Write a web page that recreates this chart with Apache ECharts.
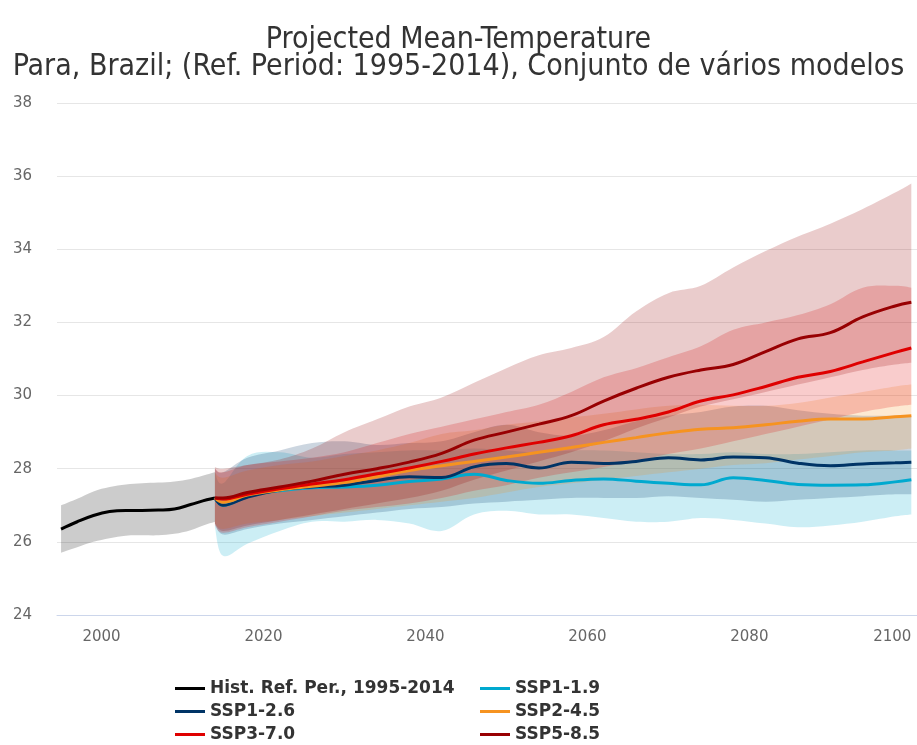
<!DOCTYPE html>
<html>
<head>
<meta charset="utf-8">
<script src="https://cdn.jsdelivr.net/npm/echarts@6/dist/echarts.min.js"></script>
<style>html,body{margin:0;padding:0;background:#fff}#c{width:917px;height:745px}</style>
</head>
<body>
<div id="c"></div>
<script>
// ---------- data ----------
var histYears = [1995, 1997, 1999, 2001, 2003, 2005, 2007, 2009, 2011, 2013, 2014];
var histMean  = [26.35, 26.55, 26.72, 26.83, 26.86, 26.86, 26.87, 26.9, 27.02, 27.15, 27.2];
var histHigh  = [27.0, 27.18, 27.38, 27.5, 27.57, 27.6, 27.62, 27.65, 27.72, 27.84, 27.9];
var histLow   = [25.7, 25.85, 26.0, 26.1, 26.17, 26.18, 26.18, 26.22, 26.32, 26.48, 26.55];

var projYears = [2014, 2015, 2018, 2022, 2026, 2030, 2034, 2038, 2042, 2046, 2050, 2054, 2058, 2062, 2066, 2070, 2074, 2078, 2082, 2086, 2090, 2094, 2098, 2100];

var ssp119Mean = [27.2, 27.0, 27.25, 27.4, 27.48, 27.5, 27.55, 27.65, 27.72, 27.85, 27.68, 27.6, 27.68, 27.72, 27.66, 27.6, 27.56, 27.75, 27.68, 27.57, 27.55, 27.56, 27.64, 27.7];
var ssp119High = [27.9, 27.6, 28.35, 28.45, 28.3, 28.4, 28.45, 28.5, 28.5, 28.55, 28.5, 28.45, 28.5, 28.5, 28.45, 28.4, 28.4, 28.45, 28.4, 28.4, 28.45, 28.5, 28.5, 28.5];
var ssp119Low  = [26.4, 25.62, 25.95, 26.3, 26.55, 26.55, 26.6, 26.5, 26.3, 26.75, 26.85, 26.75, 26.75, 26.65, 26.55, 26.55, 26.65, 26.6, 26.5, 26.4, 26.45, 26.55, 26.7, 26.75];

var ssp126Mean = [27.2, 27.0, 27.22, 27.42, 27.5, 27.55, 27.68, 27.78, 27.76, 28.05, 28.14, 28.02, 28.18, 28.14, 28.2, 28.3, 28.24, 28.32, 28.3, 28.15, 28.08, 28.13, 28.16, 28.18];
var ssp126High = [28.0, 27.9, 28.3, 28.5, 28.7, 28.75, 28.65, 28.7, 28.75, 29.0, 29.2, 29.0, 28.9, 29.05, 29.3, 29.45, 29.55, 29.7, 29.72, 29.6, 29.5, 29.45, 29.45, 29.45];
var ssp126Low  = [26.5, 26.2, 26.35, 26.5, 26.6, 26.7, 26.8, 26.9, 26.95, 27.05, 27.1, 27.15, 27.2, 27.2, 27.2, 27.25, 27.2, 27.15, 27.1, 27.15, 27.2, 27.25, 27.3, 27.3];

var ssp245Mean = [27.2, 27.08, 27.28, 27.42, 27.52, 27.62, 27.78, 27.95, 28.08, 28.2, 28.32, 28.45, 28.58, 28.72, 28.85, 28.98, 29.08, 29.12, 29.2, 29.3, 29.36, 29.36, 29.42, 29.45];
var ssp245High = [27.9, 27.75, 27.95, 28.1, 28.2, 28.35, 28.5, 28.7, 28.95, 29.05, 29.2, 29.3, 29.4, 29.5, 29.62, 29.72, 29.75, 29.72, 29.72, 29.8, 29.95, 30.1, 30.25, 30.3];
var ssp245Low  = [26.5, 26.35, 26.5, 26.6, 26.7, 26.8, 26.9, 27.0, 27.1, 27.2, 27.35, 27.5, 27.6, 27.7, 27.8, 27.9, 28.0, 28.1, 28.15, 28.25, 28.35, 28.45, 28.5, 28.55];

var ssp370Mean = [27.2, 27.17, 27.3, 27.45, 27.58, 27.7, 27.86, 28.02, 28.2, 28.4, 28.57, 28.72, 28.9, 29.2, 29.35, 29.55, 29.85, 30.02, 30.25, 30.5, 30.66, 30.92, 31.18, 31.3];
var ssp370High = [28.0, 27.9, 28.1, 28.2, 28.3, 28.45, 28.7, 28.95, 29.15, 29.35, 29.55, 29.75, 30.1, 30.5, 30.75, 31.05, 31.35, 31.8, 32.0, 32.2, 32.5, 32.95, 33.0, 32.95];
var ssp370Low  = [26.45, 26.25, 26.4, 26.55, 26.7, 26.85, 26.95, 27.05, 27.2, 27.4, 27.55, 27.75, 27.9, 28.05, 28.2, 28.4, 28.55, 28.75, 28.95, 29.15, 29.35, 29.55, 29.7, 29.75];

var ssp585Mean = [27.2, 27.2, 27.35, 27.5, 27.66, 27.85, 28.0, 28.18, 28.42, 28.78, 29.0, 29.22, 29.45, 29.85, 30.2, 30.5, 30.7, 30.85, 31.2, 31.55, 31.72, 32.15, 32.45, 32.55];
var ssp585High = [28.05, 28.0, 28.1, 28.25, 28.55, 29.0, 29.35, 29.7, 29.95, 30.35, 30.75, 31.1, 31.3, 31.6, 32.3, 32.8, 33.0, 33.5, 33.95, 34.35, 34.7, 35.1, 35.55, 35.8];
var ssp585Low  = [26.5, 26.3, 26.45, 26.6, 26.75, 26.9, 27.05, 27.2, 27.4, 27.7, 27.95, 28.2, 28.45, 28.75, 29.1, 29.4, 29.7, 29.9, 30.1, 30.3, 30.5, 30.7, 30.85, 30.9];

var xTickLabels = [2000, 2020, 2040, 2060, 2080, 2100];

var seriesNames = ['Hist. Ref. Per., 1995-2014', 'SSP1-1.9', 'SSP1-2.6', 'SSP2-4.5', 'SSP3-7.0', 'SSP5-8.5'];
var seriesColors = ['#000000', '#00a9cf', '#003466', '#f69320', '#df0000', '#980002'];
var bandColors = ['rgba(0,0,0,0.2)', 'rgba(0,169,207,0.2)', 'rgba(0,52,102,0.2)', 'rgba(246,147,32,0.2)', 'rgba(223,0,0,0.2)', 'rgba(152,0,2,0.2)'];

// ---------- build ----------
var groups = [
  [histYears, histMean, histHigh, histLow],
  [projYears, ssp119Mean, ssp119High, ssp119Low],
  [projYears, ssp126Mean, ssp126High, ssp126Low],
  [projYears, ssp245Mean, ssp245High, ssp245Low],
  [projYears, ssp370Mean, ssp370High, ssp370Low],
  [projYears, ssp585Mean, ssp585High, ssp585Low]
];
function pairs(xs, ys) { return xs.map(function (x, i) { return [x, ys[i]]; }); }

// smooth path segments (Catmull-Rom -> cubic Bezier) through given pixel points
function curveSegs(p) {
  var k = 0.18, s = '';
  for (var i = 0; i < p.length - 1; i++) {
    var p0 = p[i - 1] || p[i], p1 = p[i], p2 = p[i + 1], p3 = p[i + 2] || p[i + 1];
    var c1x = p1[0] + (p2[0] - p0[0]) * k, c1y = p1[1] + (p2[1] - p0[1]) * k;
    var c2x = p2[0] - (p3[0] - p1[0]) * k, c2y = p2[1] - (p3[1] - p1[1]) * k;
    s += ' C' + c1x + ' ' + c1y + ' ' + c2x + ' ' + c2y + ' ' + p2[0] + ' ' + p2[1];
  }
  return s;
}
function bandRenderer(xs, hi, lo, color) {
  return function (params, api) {
    var up = xs.map(function (x, i) { return api.coord([x, hi[i]]); });
    var dn = xs.map(function (x, i) { return api.coord([x, lo[i]]); }).reverse();
    var d = 'M' + up[0][0] + ' ' + up[0][1] + curveSegs(up) +
            ' L' + dn[0][0] + ' ' + dn[0][1] + curveSegs(dn) + ' Z';
    return { type: 'path', shape: { pathData: d }, style: { fill: color, stroke: null }, silent: true };
  };
}

var series = [];
groups.forEach(function (g, k) {
  series.push({
    name: 'band-' + k, type: 'custom', data: [[g[0][0], g[2][0]]],
    renderItem: bandRenderer(g[0], g[2], g[3], bandColors[k]),
    silent: true, z: 1, clip: true
  });
});
groups.forEach(function (g, k) {
  series.push({
    name: seriesNames[k], type: 'line', data: pairs(g[0], g[1]),
    symbol: 'none', smooth: 0.4, color: seriesColors[k],
    lineStyle: { width: 3, color: seriesColors[k] }, z: 5
  });
});

var legendText = { fontFamily: 'DejaVu Sans', fontWeight: 'bold', fontSize: 17, lineHeight: 17, color: '#333' };
var legendCommon = { orient: 'vertical', top: 680, padding: 0, height: 65, itemGap: 6, itemWidth: 30, itemHeight: 3,
  icon: 'rect', textStyle: legendText, selectedMode: false };
var option = {
  animation: false,
  backgroundColor: '#fff',
  title: {
    text: 'Projected Mean-Temperature\nPara, Brazil; (Ref. Period: 1995-2014), Conjunto de vários modelos',
    left: 'center', top: 22,
    textStyle: { fontFamily: 'DejaVu Sans Condensed', fontWeight: 'normal', fontSize: 30, lineHeight: 27, color: '#333' }
  },
  legend: [
    Object.assign({ left: 175, data: [seriesNames[0], seriesNames[2], seriesNames[4]] }, legendCommon),
    Object.assign({ left: 480, data: [seriesNames[1], seriesNames[3], seriesNames[5]] }, legendCommon)
  ],
  grid: { left: 57, right: 0, top: 103, bottom: 130, containLabel: false },
  xAxis: {
    type: 'value', min: 1994.5, max: 2100.7,
    axisLine: { show: true, lineStyle: { color: '#ccd6eb', width: 1 } },
    axisTick: { show: false },
    splitLine: { show: false },
    axisLabel: { customValues: xTickLabels, alignMaxLabel: 'right', margin: 15, fontFamily: 'DejaVu Sans', fontSize: 15, color: '#666',
      formatter: function (v) { return String(v); } }
  },
  yAxis: {
    type: 'value', min: 24, max: 38, interval: 2,
    axisLine: { show: false }, axisTick: { show: false },
    splitLine: { lineStyle: { color: '#e6e6e6', width: 1 } },
    axisLabel: { margin: 25, fontFamily: 'DejaVu Sans', fontSize: 15, color: '#666' }
  },
  series: series
};
var chart = echarts.init(document.getElementById('c'), null, { renderer: 'canvas' });
chart.setOption(option);
</script>
</body>
</html>
